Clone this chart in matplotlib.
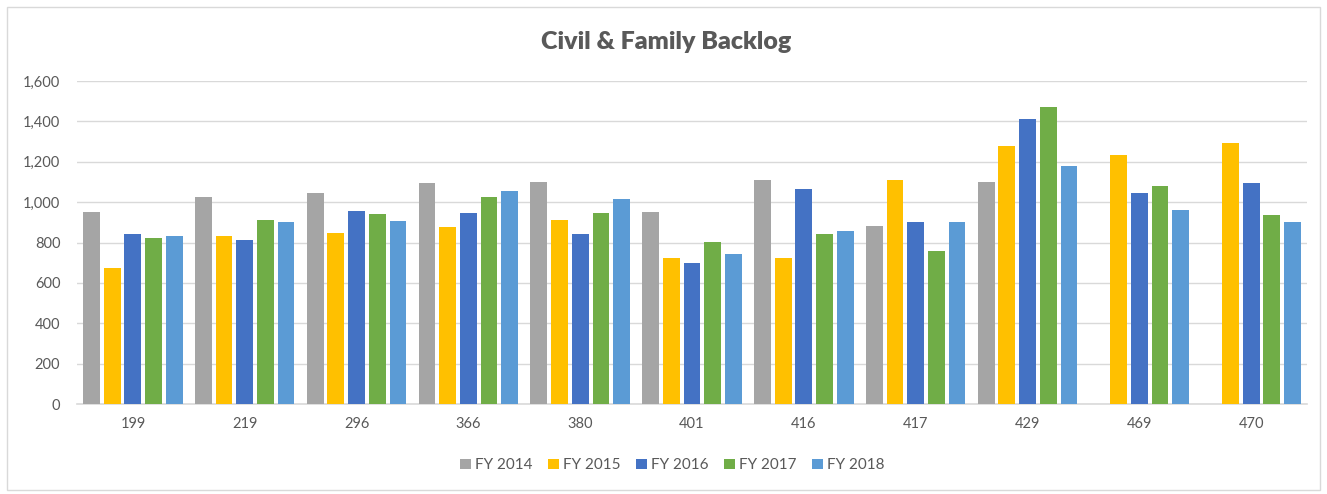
import numpy as np
import matplotlib.pyplot as plt
from matplotlib.patches import Rectangle
from matplotlib.ticker import FuncFormatter

plt.rcParams['font.family'] = ['Lato', 'DejaVu Sans']

courts = ["199", "219", "296", "366", "380", "401", "416", "417", "429", "469", "470"]
series = ["FY 2014", "FY 2015", "FY 2016", "FY 2017", "FY 2018"]

fy2014 = [950, 1028, 1046, 1097, 1099, 950, 1108, 882, 1100, np.nan, np.nan]
fy2015 = [673, 830, 846, 879, 914, 722, 722, 1112, 1277, 1235, 1292]
fy2016 = [841, 815, 958, 945, 843, 698, 1064, 904, 1412, 1044, 1095]
fy2017 = [823, 914, 942, 1024, 947, 802, 840, 757, 1470, 1080, 934]
fy2018 = [830, 904, 907, 1056, 1014, 742, 859, 901, 1179, 960, 902]

colors = ["#A5A5A5", "#FFC000", "#4472C4", "#70AD47", "#5B9BD5"]
text_col = "#595959"

fig = plt.figure(figsize=(13.27, 4.94), dpi=100)
ax = fig.add_axes([0.058, 0.182, 0.927, 0.654])

x = np.arange(len(courts))
step = 0.185
width = 0.15
for i, (vals, lab, c) in enumerate(zip([fy2014, fy2015, fy2016, fy2017, fy2018], series, colors)):
    ax.bar(x + (i - 2) * step, vals, width=width, color=c, label=lab, zorder=3)

ax.set_xlim(-0.5, len(courts) - 0.5)
ax.set_ylim(0, 1600)
ax.set_yticks(np.arange(0, 1601, 200))
ax.yaxis.set_major_formatter(FuncFormatter(lambda v, p: f"{int(v):,}"))
ax.set_xticks(x)
ax.set_xticklabels(courts)
ax.grid(axis="y", color="#D9D9D9", linewidth=1, zorder=0)
for s in ["top", "right", "left"]:
    ax.spines[s].set_visible(False)
ax.spines["bottom"].set_color("#D9D9D9")
ax.spines["bottom"].set_linewidth(1.2)
ax.tick_params(length=0, colors=text_col, labelsize=10.5)
ax.tick_params(axis="x", pad=9)
ax.tick_params(axis="y", pad=12)

fig.text(0.502, 0.915, "Civil & Family Backlog", ha="center", va="center",
         fontsize=18, fontweight="heavy", color=text_col)

leg = ax.legend(loc="center", bbox_to_anchor=(0.484, -0.19), ncol=5, frameon=False,
                fontsize=11, handlelength=0.7, handleheight=0.7, handletextpad=0.3,
                columnspacing=1.0)
for t in leg.get_texts():
    t.set_color(text_col)

fig.patches.append(Rectangle((0.005, 0.008), 0.99, 0.978, transform=fig.transFigure,
                             fill=False, edgecolor="#D9D9D9", linewidth=1))

fig.savefig("out.png", dpi=100)
